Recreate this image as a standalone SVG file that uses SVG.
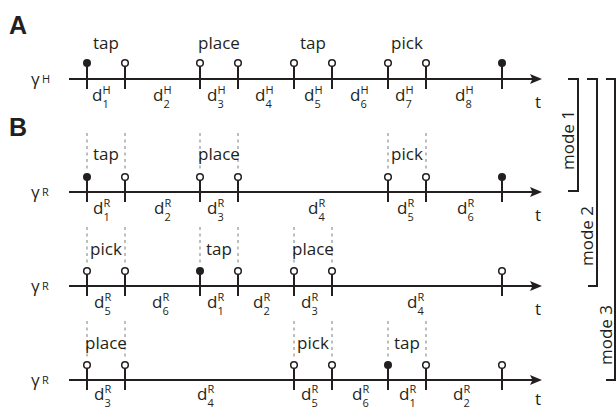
<svg xmlns="http://www.w3.org/2000/svg" width="616" height="410" viewBox="0 0 616 410">
<defs>
<style>
.ax{stroke:#231f20;stroke-width:2;fill:none}
.tk{stroke:#231f20;stroke-width:2}
.oc{fill:#fff;stroke:#231f20;stroke-width:1.5}
.fc{fill:#231f20}
.dl{stroke:#a7a9ac;stroke-width:1.5;stroke-dasharray:3 3.5}
.lb{font-family:"Open Sans",sans-serif;font-size:17px;fill:#231f20}
.lm{text-anchor:middle}
.sm{font-size:11px}
.hd{font-family:"Liberation Sans",Arial,sans-serif;font-weight:700;font-size:25px;fill:#231f20}
.br{stroke:#231f20;stroke-width:2;fill:none}
</style>
<marker id="arr" markerUnits="userSpaceOnUse" markerWidth="12" markerHeight="10" refX="4" refY="5" orient="auto">
<path d="M0,0 L12,5 L0,10 L2.5,5 Z" fill="#231f20"/>
</marker>
</defs>
<rect width="616" height="410" fill="#fff"/>

<text class="hd" x="9" y="34">A</text>
<text class="hd" x="9" y="136">B</text>

<!-- Row A -->
<g id="rowA">
<text class="lb" x="31" y="85">γ<tspan class="sm" x="42" y="83">H</tspan></text>
<line class="ax" x1="69" y1="79" x2="534" y2="79" marker-end="url(#arr)"/>
<g class="tk">
<line x1="87" y1="63" x2="87" y2="89"/><line x1="125" y1="63" x2="125" y2="89"/>
<line x1="200" y1="63" x2="200" y2="89"/><line x1="238" y1="63" x2="238" y2="89"/>
<line x1="294" y1="63" x2="294" y2="89"/><line x1="332" y1="63" x2="332" y2="89"/>
<line x1="388" y1="63" x2="388" y2="89"/><line x1="426" y1="63" x2="426" y2="89"/>
<line x1="502" y1="63" x2="502" y2="89"/>
</g>
<circle class="fc" cx="87" cy="63" r="4"/>
<circle class="oc" cx="125" cy="63" r="3.3"/>
<circle class="oc" cx="200" cy="63" r="3.3"/>
<circle class="oc" cx="238" cy="63" r="3.3"/>
<circle class="oc" cx="294" cy="63" r="3.3"/>
<circle class="oc" cx="332" cy="63" r="3.3"/>
<circle class="oc" cx="388" cy="63" r="3.3"/>
<circle class="oc" cx="426" cy="63" r="3.3"/>
<circle class="fc" cx="502" cy="63" r="4"/>
<text class="lb lm" x="106" y="49">tap</text>
<text class="lb lm" x="219" y="49">place</text>
<text class="lb lm" x="313" y="49">tap</text>
<text class="lb lm" x="407" y="49">pick</text>
<text class="lb" x="92" y="101">d<tspan class="sm" x="102.5" y="94">H</tspan><tspan class="sm" x="102.5" y="108">1</tspan></text>
<text class="lb" x="153" y="101">d<tspan class="sm" x="163.5" y="94">H</tspan><tspan class="sm" x="163.5" y="108">2</tspan></text>
<text class="lb" x="207" y="101">d<tspan class="sm" x="217.5" y="94">H</tspan><tspan class="sm" x="217.5" y="108">3</tspan></text>
<text class="lb" x="255" y="101">d<tspan class="sm" x="265.5" y="94">H</tspan><tspan class="sm" x="265.5" y="108">4</tspan></text>
<text class="lb" x="304" y="101">d<tspan class="sm" x="314.5" y="94">H</tspan><tspan class="sm" x="314.5" y="108">5</tspan></text>
<text class="lb" x="350" y="101">d<tspan class="sm" x="360.5" y="94">H</tspan><tspan class="sm" x="360.5" y="108">6</tspan></text>
<text class="lb" x="395" y="101">d<tspan class="sm" x="405.5" y="94">H</tspan><tspan class="sm" x="405.5" y="108">7</tspan></text>
<text class="lb" x="455" y="101">d<tspan class="sm" x="465.5" y="94">H</tspan><tspan class="sm" x="465.5" y="108">8</tspan></text>
<text class="lb" x="535" y="108">t</text>
</g>

<!-- Row B1 -->
<g id="rowB1">
<text class="lb" x="31" y="198">γ<tspan class="sm" x="42" y="196">R</tspan></text>
<g class="dl">
<line x1="87" y1="133" x2="87" y2="171"/><line x1="125" y1="133" x2="125" y2="171"/>
<line x1="200" y1="133" x2="200" y2="171"/><line x1="238" y1="133" x2="238" y2="171"/>
<line x1="388" y1="133" x2="388" y2="171"/><line x1="426" y1="133" x2="426" y2="171"/>
</g>
<line class="ax" x1="69" y1="192" x2="534" y2="192" marker-end="url(#arr)"/>
<g class="tk">
<line x1="87" y1="177" x2="87" y2="202"/><line x1="125" y1="177" x2="125" y2="202"/>
<line x1="200" y1="177" x2="200" y2="202"/><line x1="238" y1="177" x2="238" y2="202"/>
<line x1="388" y1="177" x2="388" y2="202"/><line x1="426" y1="177" x2="426" y2="202"/>
<line x1="502" y1="177" x2="502" y2="202"/>
</g>
<circle class="fc" cx="87" cy="177" r="4"/>
<circle class="oc" cx="125" cy="177" r="3.3"/>
<circle class="oc" cx="200" cy="177" r="3.3"/>
<circle class="oc" cx="238" cy="177" r="3.3"/>
<circle class="oc" cx="388" cy="177" r="3.3"/>
<circle class="oc" cx="426" cy="177" r="3.3"/>
<circle class="fc" cx="502" cy="177" r="4"/>
<text class="lb lm" x="106" y="160">tap</text>
<text class="lb lm" x="219" y="160">place</text>
<text class="lb lm" x="407" y="160">pick</text>
<text class="lb" x="93" y="214">d<tspan class="sm" x="103.5" y="207">R</tspan><tspan class="sm" x="103.5" y="221">1</tspan></text>
<text class="lb" x="154" y="214">d<tspan class="sm" x="164.5" y="207">R</tspan><tspan class="sm" x="164.5" y="221">2</tspan></text>
<text class="lb" x="207" y="214">d<tspan class="sm" x="217.5" y="207">R</tspan><tspan class="sm" x="217.5" y="221">3</tspan></text>
<text class="lb" x="308" y="214">d<tspan class="sm" x="318.5" y="207">R</tspan><tspan class="sm" x="318.5" y="221">4</tspan></text>
<text class="lb" x="397" y="214">d<tspan class="sm" x="407.5" y="207">R</tspan><tspan class="sm" x="407.5" y="221">5</tspan></text>
<text class="lb" x="457" y="214">d<tspan class="sm" x="467.5" y="207">R</tspan><tspan class="sm" x="467.5" y="221">6</tspan></text>
<text class="lb" x="535" y="221">t</text>
</g>

<!-- Row B2 -->
<g id="rowB2">
<text class="lb" x="31" y="292">γ<tspan class="sm" x="42" y="290">R</tspan></text>
<g class="dl">
<line x1="87" y1="227" x2="87" y2="265"/><line x1="125" y1="227" x2="125" y2="265"/>
<line x1="200" y1="227" x2="200" y2="265"/><line x1="238" y1="227" x2="238" y2="265"/>
<line x1="294" y1="227" x2="294" y2="265"/><line x1="332" y1="227" x2="332" y2="265"/>
</g>
<line class="ax" x1="69" y1="286" x2="534" y2="286" marker-end="url(#arr)"/>
<g class="tk">
<line x1="87" y1="271" x2="87" y2="296"/><line x1="125" y1="271" x2="125" y2="296"/>
<line x1="200" y1="271" x2="200" y2="296"/><line x1="238" y1="271" x2="238" y2="296"/>
<line x1="294" y1="271" x2="294" y2="296"/><line x1="332" y1="271" x2="332" y2="296"/>
<line x1="502" y1="271" x2="502" y2="296"/>
</g>
<circle class="oc" cx="87" cy="271" r="3.3"/>
<circle class="oc" cx="125" cy="271" r="3.3"/>
<circle class="fc" cx="200" cy="271" r="4"/>
<circle class="oc" cx="238" cy="271" r="3.3"/>
<circle class="oc" cx="294" cy="271" r="3.3"/>
<circle class="oc" cx="332" cy="271" r="3.3"/>
<circle class="oc" cx="502" cy="271" r="3.3"/>
<text class="lb lm" x="106" y="255">pick</text>
<text class="lb lm" x="219" y="255">tap</text>
<text class="lb lm" x="313" y="255">place</text>
<text class="lb" x="94" y="308">d<tspan class="sm" x="104.5" y="301">R</tspan><tspan class="sm" x="104.5" y="315">5</tspan></text>
<text class="lb" x="152" y="308">d<tspan class="sm" x="162.5" y="301">R</tspan><tspan class="sm" x="162.5" y="315">6</tspan></text>
<text class="lb" x="207" y="308">d<tspan class="sm" x="217.5" y="301">R</tspan><tspan class="sm" x="217.5" y="315">1</tspan></text>
<text class="lb" x="253" y="308">d<tspan class="sm" x="263.5" y="301">R</tspan><tspan class="sm" x="263.5" y="315">2</tspan></text>
<text class="lb" x="301" y="308">d<tspan class="sm" x="311.5" y="301">R</tspan><tspan class="sm" x="311.5" y="315">3</tspan></text>
<text class="lb" x="407" y="308">d<tspan class="sm" x="417.5" y="301">R</tspan><tspan class="sm" x="417.5" y="315">4</tspan></text>
<text class="lb" x="535" y="315">t</text>
</g>

<!-- Row B3 -->
<g id="rowB3">
<text class="lb" x="31" y="386">γ<tspan class="sm" x="42" y="384">R</tspan></text>
<g class="dl">
<line x1="87" y1="321" x2="87" y2="359"/><line x1="125" y1="321" x2="125" y2="359"/>
<line x1="294" y1="321" x2="294" y2="359"/><line x1="332" y1="321" x2="332" y2="359"/>
<line x1="388" y1="321" x2="388" y2="359"/><line x1="426" y1="321" x2="426" y2="359"/>
</g>
<line class="ax" x1="69" y1="380" x2="534" y2="380" marker-end="url(#arr)"/>
<g class="tk">
<line x1="87" y1="365" x2="87" y2="390"/><line x1="125" y1="365" x2="125" y2="390"/>
<line x1="294" y1="365" x2="294" y2="390"/><line x1="332" y1="365" x2="332" y2="390"/>
<line x1="388" y1="365" x2="388" y2="390"/><line x1="426" y1="365" x2="426" y2="390"/>
<line x1="502" y1="365" x2="502" y2="390"/>
</g>
<circle class="oc" cx="87" cy="365" r="3.3"/>
<circle class="oc" cx="125" cy="365" r="3.3"/>
<circle class="oc" cx="294" cy="365" r="3.3"/>
<circle class="oc" cx="332" cy="365" r="3.3"/>
<circle class="fc" cx="388" cy="365" r="4"/>
<circle class="oc" cx="426" cy="365" r="3.3"/>
<circle class="oc" cx="502" cy="365" r="3.3"/>
<text class="lb lm" x="106" y="349">place</text>
<text class="lb lm" x="313" y="349">pick</text>
<text class="lb lm" x="407" y="349">tap</text>
<text class="lb" x="94" y="400">d<tspan class="sm" x="104.5" y="393">R</tspan><tspan class="sm" x="104.5" y="407">3</tspan></text>
<text class="lb" x="197" y="400">d<tspan class="sm" x="207.5" y="393">R</tspan><tspan class="sm" x="207.5" y="407">4</tspan></text>
<text class="lb" x="301" y="400">d<tspan class="sm" x="311.5" y="393">R</tspan><tspan class="sm" x="311.5" y="407">5</tspan></text>
<text class="lb" x="352" y="400">d<tspan class="sm" x="362.5" y="393">R</tspan><tspan class="sm" x="362.5" y="407">6</tspan></text>
<text class="lb" x="399" y="400">d<tspan class="sm" x="409.5" y="393">R</tspan><tspan class="sm" x="409.5" y="407">1</tspan></text>
<text class="lb" x="453" y="400">d<tspan class="sm" x="463.5" y="393">R</tspan><tspan class="sm" x="463.5" y="407">2</tspan></text>
<text class="lb" x="535" y="405">t</text>
</g>

<!-- Mode brackets -->
<g id="mode1">
<path class="br" d="M568,79 H578 V191 H568"/>
<text class="lb lm" transform="translate(574,140) rotate(-90)">mode 1</text>
</g>
<g id="mode2">
<path class="br" d="M587,79 H597 V286 H588"/>
<text class="lb lm" transform="translate(593,236) rotate(-90)">mode 2</text>
</g>
<g id="mode3">
<path class="br" d="M606,79 H615 V380 H606"/>
<text class="lb lm" transform="translate(612,335) rotate(-90)">mode 3</text>
</g>
</svg>
